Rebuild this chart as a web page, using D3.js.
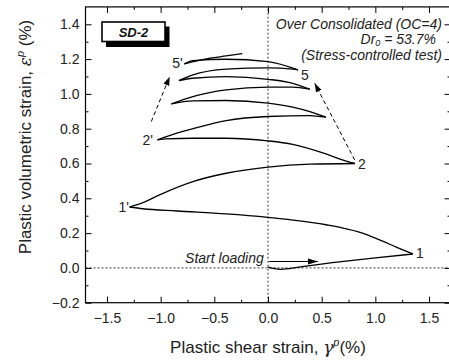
<!DOCTYPE html>
<html>
<head>
<meta charset="utf-8">
<script src="https://cdn.jsdelivr.net/npm/d3@7/dist/d3.min.js"></script>
<style>
  html, body { margin: 0; padding: 0; background: #fff; }
  svg { display: block; font-family: "Liberation Sans", Arial, sans-serif; }
</style>
</head>
<body>
<svg id="chart" width="449" height="361"></svg>
<script>
// Stress path branches: plastic shear strain (%) vs plastic volumetric strain (%)
const loading  = [[0.0,0.005],[0.06,-0.004],[0.12,-0.008],[0.3,0.006],[0.6,0.03],[1.0,0.058],[1.35,0.08]];
const branch1  = [[1.35,0.08],[1.2,0.118],[1.05,0.158],[0.85,0.205],[0.54,0.248],[0.23,0.275],[0.0,0.29],[-0.39,0.31],[-0.85,0.327],[-1.165,0.34],[-1.29,0.35]];
const branch1r = [[-1.29,0.35],[-1.165,0.375],[-1.01,0.42],[-0.70,0.496],[-0.39,0.544],[0.0,0.579],[0.39,0.596],[0.81,0.60]];
const branch2  = [[0.81,0.60],[0.70,0.62],[0.54,0.655],[0.23,0.71],[0.0,0.73],[-0.39,0.745],[-0.70,0.745],[-0.95,0.742],[-1.03,0.736]];
const branch2r = [[-1.03,0.736],[-0.85,0.774],[-0.70,0.80],[-0.39,0.847],[0.0,0.87],[0.39,0.875],[0.54,0.866]];
const branch3  = [[0.54,0.866],[0.39,0.898],[0.23,0.924],[0.0,0.947],[-0.39,0.962],[-0.70,0.960],[-0.90,0.943]];
const branch3r = [[-0.90,0.943],[-0.70,0.985],[-0.39,1.023],[0.0,1.039],[0.23,1.039],[0.39,1.027]];
const branch4  = [[0.39,1.027],[0.23,1.061],[0.0,1.084],[-0.39,1.099],[-0.70,1.090],[-0.83,1.076]];
const branch4r = [[-0.83,1.076],[-0.70,1.109],[-0.39,1.142],[0.0,1.15],[0.23,1.142],[0.28,1.138]];
const branch5  = [[0.28,1.138],[0.0,1.186],[-0.39,1.199],[-0.70,1.191],[-0.78,1.172]];
const branch5r = [[-0.78,1.172],[-0.54,1.205],[-0.39,1.218],[-0.24,1.232]];

const branches = [loading, branch1, branch1r, branch2, branch2r, branch3, branch3r, branch4, branch4r, branch5, branch5r];

// Axis ticks
const xTicks = [-1.5, -1.0, -0.5, 0.0, 0.5, 1.0, 1.5];
const xMinor = [-1.25, -0.75, -0.25, 0.25, 0.75, 1.25];
const yTicks = [-0.2, 0.0, 0.2, 0.4, 0.6, 0.8, 1.0, 1.2, 1.4];
const yMinor = [-0.1, 0.1, 0.3, 0.5, 0.7, 0.9, 1.1, 1.3];

// Point labels: [text, x, y, dx, dy]
const pointLabels = [
  ["1", 1.35, 0.08, 3, 4],
  ["1'", -1.29, 0.35, -11, 5],
  ["2", 0.81, 0.60, 3, 5],
  ["2'", -1.03, 0.736, -15, 5],
  ["5'", -0.78, 1.172, -12, 4],
  ["5", 0.28, 1.138, 3, 10]
];

// Dashed trend arrows (from, to)
const trendArrows = [
  [[-1.087, 0.841], [-0.916, 1.099]],
  [[0.807, 0.621], [0.435, 1.061]]
];

const svg = d3.select("#chart");
const x = d3.scaleLinear().domain([-1.7, 1.7]).range([85.5, 450.5]);
const y = d3.scaleLinear().domain([-0.2, 1.5]).range([302.7, 6.9]);

const defs = svg.append("defs");
defs.append("marker")
  .attr("id", "head").attr("viewBox", "0 -4 10 8")
  .attr("refX", 10).attr("refY", 0)
  .attr("markerWidth", 10).attr("markerHeight", 8)
  .attr("markerUnits", "userSpaceOnUse").attr("orient", "auto")
  .append("path").attr("d", "M0,-3L10,0L0,3Z").attr("fill", "#000");
defs.append("marker")
  .attr("id", "headSmall").attr("viewBox", "0 -4 10 8")
  .attr("refX", 10).attr("refY", 0)
  .attr("markerWidth", 9).attr("markerHeight", 7)
  .attr("markerUnits", "userSpaceOnUse").attr("orient", "auto")
  .append("path").attr("d", "M0,-3.5L10,0L0,3.5Z").attr("fill", "#000");

// Reference lines at zero
svg.append("line")
  .attr("x1", x(-1.7)).attr("x2", x(1.7)).attr("y1", y(0)).attr("y2", y(0))
  .attr("stroke", "#333").attr("stroke-width", 1).attr("stroke-dasharray", "2,2");
svg.append("line")
  .attr("x1", x(0)).attr("x2", x(0)).attr("y1", y(-0.2)).attr("y2", y(1.5))
  .attr("stroke", "#333").attr("stroke-width", 1).attr("stroke-dasharray", "2,2");

// Axes: major and minor ticks point inward on all four sides
function styleAxis(g) {
  g.select(".domain").remove();
  g.selectAll(".tick line").attr("stroke", "#000").attr("stroke-width", 1);
  g.selectAll("text").attr("font-size", 14).attr("fill", "#222")
    .attr("font-family", "'Liberation Sans', Arial, sans-serif");
}
const fmt = d3.format(".1f");

svg.append("g").attr("transform", `translate(0,${y(-0.2)})`)
  .call(d3.axisBottom(x).tickValues(xTicks).tickFormat(fmt).tickSize(-6).tickPadding(10.5))
  .call(styleAxis);
svg.append("g").attr("transform", `translate(0,${y(-0.2)})`)
  .call(d3.axisBottom(x).tickValues(xMinor).tickFormat("").tickSize(-3))
  .call(styleAxis);
svg.append("g").attr("transform", `translate(0,${y(1.5)})`)
  .call(d3.axisTop(x).tickValues(xTicks).tickFormat("").tickSize(-6))
  .call(styleAxis);
svg.append("g").attr("transform", `translate(0,${y(1.5)})`)
  .call(d3.axisTop(x).tickValues(xMinor).tickFormat("").tickSize(-3))
  .call(styleAxis);

svg.append("g").attr("transform", `translate(${x(-1.7)},0)`)
  .call(d3.axisLeft(y).tickValues(yTicks).tickFormat(fmt).tickSize(-6).tickPadding(6))
  .call(styleAxis);
svg.append("g").attr("transform", `translate(${x(-1.7)},0)`)
  .call(d3.axisLeft(y).tickValues(yMinor).tickFormat("").tickSize(-3))
  .call(styleAxis);
svg.append("g").attr("transform", `translate(${x(1.7)},0)`)
  .call(d3.axisRight(y).tickValues(yTicks).tickFormat("").tickSize(-6))
  .call(styleAxis);
svg.append("g").attr("transform", `translate(${x(1.7)},0)`)
  .call(d3.axisRight(y).tickValues(yMinor).tickFormat("").tickSize(-3))
  .call(styleAxis);

// Plot frame
svg.append("rect")
  .attr("x", x(-1.7)).attr("y", y(1.5))
  .attr("width", x(1.7) - x(-1.7)).attr("height", y(-0.2) - y(1.5))
  .attr("fill", "none").attr("stroke", "#000").attr("stroke-width", 1.2);

// Strain path: each branch runs one way in x, so it is drawn sorted with a monotone curve
const line = d3.line().x(d => x(d[0])).y(d => y(d[1])).curve(d3.curveMonotoneX);
svg.append("g").selectAll("path").data(branches).join("path")
  .attr("d", d => line(d.slice().sort((a, b) => a[0] - b[0])))
  .attr("fill", "none").attr("stroke", "#000").attr("stroke-width", 1.3)
  .attr("stroke-linejoin", "round");

// Dashed trend arrows
svg.append("g").selectAll("line").data(trendArrows).join("line")
  .attr("x1", d => x(d[0][0])).attr("y1", d => y(d[0][1]))
  .attr("x2", d => x(d[1][0])).attr("y2", d => y(d[1][1]))
  .attr("stroke", "#000").attr("stroke-width", 1).attr("stroke-dasharray", "4,3")
  .attr("marker-end", "url(#headSmall)");

// Start loading arrow
svg.append("line")
  .attr("x1", x(0.01)).attr("y1", y(0.037)).attr("x2", x(0.466)).attr("y2", y(0.037))
  .attr("stroke", "#000").attr("stroke-width", 1.1)
  .attr("marker-end", "url(#head)");
svg.append("text")
  .attr("x", x(-0.04)).attr("y", y(0.026))
  .attr("text-anchor", "end").attr("font-size", 14).attr("font-style", "italic").attr("fill", "#222")
  .text("Start loading");

// Point labels
svg.append("g").selectAll("text").data(pointLabels).join("text")
  .attr("x", d => x(d[1]) + d[3]).attr("y", d => y(d[2]) + d[4])
  .attr("font-size", 14).attr("fill", "#222")
  .text(d => d[0]);

// Test description
const note = svg.append("g").attr("font-size", 14).attr("font-style", "italic").attr("fill", "#222")
  .attr("text-anchor", "end");
note.append("text").attr("x", 442).attr("y", 29).text("Over Consolidated (OC=4)");
const dr = note.append("text").attr("x", 436).attr("y", 43.5);
dr.append("tspan").text("Dr");
dr.append("tspan").attr("font-size", 9).attr("dy", 2).text("0");
dr.append("tspan").attr("dy", -2).text(" = 53.7%");
note.append("text").attr("x", 442).attr("y", 59.5).text("(Stress-controlled test)");

// Specimen tag with drop shadow
svg.append("rect").attr("x", 106).attr("y", 26.5).attr("width", 63.5).attr("height", 20.5).attr("fill", "#000");
svg.append("rect").attr("x", 102).attr("y", 22).attr("width", 63).attr("height", 19.5)
  .attr("fill", "#fff").attr("stroke", "#000").attr("stroke-width", 1.6);
svg.append("text").attr("x", 133.5).attr("y", 36.5).attr("text-anchor", "middle")
  .attr("font-size", 13).attr("font-weight", "bold").attr("font-style", "italic").attr("fill", "#111")
  .text("SD-2");

// Axis titles
const xt = svg.append("text").attr("x", 268).attr("y", 352.5).attr("text-anchor", "middle")
  .attr("font-size", 17).attr("fill", "#222");
xt.append("tspan").text("Plastic shear strain, ");
xt.append("tspan").attr("font-style", "italic").attr("font-family", "'DejaVu Serif', serif").text("γ");
xt.append("tspan").attr("font-style", "italic").attr("font-size", 11).attr("dy", -7).text("p");
xt.append("tspan").attr("dy", 7).text("(%)");

const yt = svg.append("text").attr("transform", "translate(31,137) rotate(-90)").attr("text-anchor", "middle")
  .attr("font-size", 17).attr("fill", "#222");
yt.append("tspan").text("Plastic volumetric strain, ");
yt.append("tspan").attr("font-style", "italic").attr("font-family", "'DejaVu Serif', serif").text("ε");
yt.append("tspan").attr("font-style", "italic").attr("font-size", 11).attr("dy", -7).text("p");
yt.append("tspan").attr("dy", 7).text(" (%)");
</script>
</body>
</html>
